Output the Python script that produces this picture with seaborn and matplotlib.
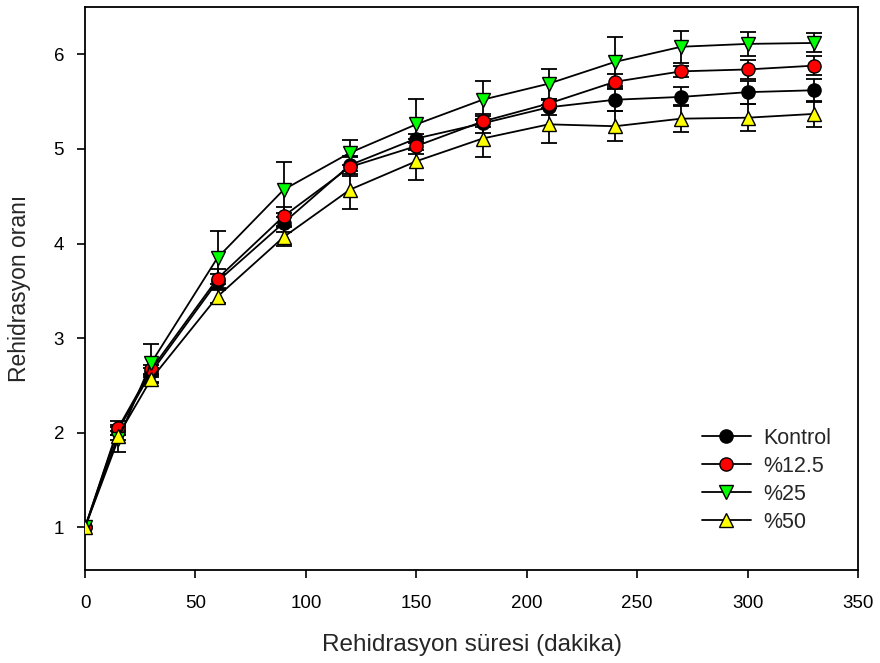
import matplotlib
matplotlib.use("Agg")
import matplotlib.pyplot as plt
import seaborn as sns
import pandas as pd
import numpy as np

time_min = [0, 15, 30, 60, 90, 120, 150, 180, 210, 240, 270, 300, 330]

kontrol = [1.0, 2.03, 2.64, 3.60, 4.22, 4.83, 5.11, 5.27, 5.44, 5.52, 5.55, 5.60, 5.62]
kontrol_err = [0.0, 0.05, 0.05, 0.08, 0.10, 0.10, 0.05, 0.10, 0.08, 0.12, 0.10, 0.12, 0.12]

p125 = [1.0, 2.05, 2.67, 3.63, 4.29, 4.81, 5.03, 5.29, 5.48, 5.71, 5.82, 5.84, 5.88]
p125_err = [0.0, 0.07, 0.05, 0.10, 0.10, 0.10, 0.08, 0.06, 0.05, 0.08, 0.06, 0.10, 0.10]

p25 = [1.0, 1.93, 2.74, 3.85, 4.57, 4.96, 5.26, 5.52, 5.69, 5.92, 6.08, 6.11, 6.12]
p25_err = [0.0, 0.13, 0.20, 0.28, 0.29, 0.13, 0.27, 0.20, 0.16, 0.26, 0.17, 0.13, 0.10]

p50 = [1.0, 1.97, 2.57, 3.44, 4.07, 4.57, 4.87, 5.11, 5.26, 5.24, 5.32, 5.33, 5.37]
p50_err = [0.0, 0.05, 0.04, 0.07, 0.10, 0.20, 0.20, 0.20, 0.20, 0.16, 0.14, 0.14, 0.14]

labels = ["Kontrol", "%12.5", "%25", "%50"]
series = [kontrol, p125, p25, p50]
errors = [kontrol_err, p125_err, p25_err, p50_err]
colors = ["black", "red", "#00ff00", "yellow"]
markers = ["o", "o", "v", "^"]

sns.set_theme(style="ticks")
plt.rcParams["font.family"] = ["Liberation Sans", "DejaVu Sans"]

fig = plt.figure(figsize=(8.8, 6.63), dpi=100)
ax = fig.add_axes([85 / 880, 1 - 570 / 663, (858 - 85) / 880, (570 - 7) / 663])

for lab, vals, errs, col, mk in zip(labels, series, errors, colors, markers):
    df = pd.DataFrame({"t": time_min, "v": vals})
    ax.errorbar(time_min, vals, yerr=errs, fmt="none", ecolor="black",
                elinewidth=1.3, capsize=5.5, capthick=1.3, zorder=2)
    sns.lineplot(data=df, x="t", y="v", ax=ax, color="black", linewidth=1.3,
                 marker=mk, markersize=9.5, markerfacecolor=col,
                 markeredgecolor="black", markeredgewidth=1.0,
                 label=lab, zorder=3)

ax.set_xlim(0, 350)
ax.set_ylim(0.55, 6.5)
ax.set_xticks([0, 50, 100, 150, 200, 250, 300, 350])
ax.set_yticks([1, 2, 3, 4, 5, 6])
ax.tick_params(direction="out", length=6, width=1.2, labelsize=13.5, colors="black")
ax.tick_params(axis="x", pad=12)
ax.tick_params(axis="y", pad=9)
for s in ax.spines.values():
    s.set_linewidth(1.3)
    s.set_color("black")
    s.set_visible(True)

ax.set_xlabel("Rehidrasyon süresi (dakika)", fontsize=17.5, labelpad=16)
ax.set_ylabel("Rehidrasyon oranı", fontsize=16.5, labelpad=16)

leg = ax.legend(loc="lower right", bbox_to_anchor=(0.99, 0.032), frameon=False,
                fontsize=15.5, handlelength=2.3, labelspacing=0.32, handletextpad=0.55)

fig.savefig("out.png", dpi=100)
